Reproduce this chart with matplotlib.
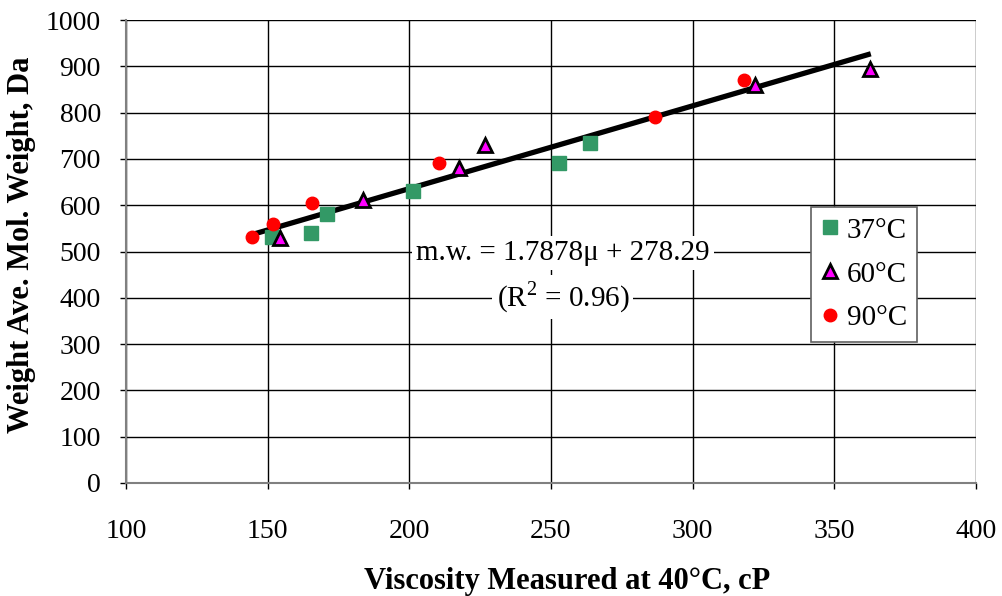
import matplotlib
matplotlib.use("Agg")
import matplotlib.pyplot as plt
import numpy as np

plt.rcParams['font.family'] = ['Liberation Serif', 'DejaVu Serif']
plt.rcParams['mathtext.fontset'] = 'custom'
plt.rcParams['mathtext.rm'] = 'Liberation Serif'

# Data
x37 = [151.5, 165.3, 170.9, 201.3, 252.8, 263.7]
y37 = [531, 540, 580, 630, 691, 734]
x60 = [154.3, 183.6, 217.5, 226.7, 322.0, 362.5]
y60 = [529, 611, 680, 730, 860, 894]
x90 = [144.5, 151.9, 165.6, 210.4, 286.7, 318.0]
y90 = [531, 560, 605, 692, 790, 870]
slope, intercept = 1.7878, 278.29
fit_x = [144, 362]

xticks = [100, 150, 200, 250, 300, 350, 400]
yticks = list(range(0, 1001, 100))

fig = plt.figure(figsize=(10.03, 5.96), dpi=100)
ax = fig.add_axes([0.1256, 0.1896, 0.8474, 0.7768])

ax.set_xlim(100, 400)
ax.set_ylim(0, 1000)
ax.set_xticks(xticks)
ax.set_yticks(yticks)
ax.grid(True, color='black', linewidth=1.0, zorder=0)
ax.set_axisbelow(True)
for s in ['top', 'right']:
    ax.spines[s].set_visible(False)
for s in ['left', 'bottom']:
    ax.spines[s].set_color('#808080')
    ax.spines[s].set_linewidth(1.5)
ax.tick_params(direction='out', length=4, width=1, labelsize=20, colors='black')
ax.tick_params(axis='x', pad=22)
ax.tick_params(axis='y', pad=14)

fx = np.array(fit_x)
ax.plot(fx, slope * fx + intercept, color='black', linewidth=3.8, zorder=3)

ax.plot(x37, y37, linestyle='none', marker='s', markersize=9.5, color='#339966',
        markeredgecolor='#339966', label='37°C', zorder=4)
ax.plot(x60, y60, linestyle='none', marker='^', markersize=10, color='#FF00FF',
        markeredgecolor='black', markeredgewidth=2, label='60°C', zorder=4)
ax.plot(x90, y90, linestyle='none', marker='o', markersize=9, color='#FF0000',
        markeredgecolor='#FF0000', label='90°C', zorder=4)

ax.text((563 - 126) / 850, (483 - 253) / 463, 'm.w. = 1.7878μ + 278.29',
        transform=ax.transAxes, ha='center', va='center', fontsize=21,
        bbox=dict(facecolor='white', edgecolor='none', pad=3), zorder=5)
ax.text((563 - 126) / 850, (483 - 297) / 463, '(R$^2$ = 0.96)',
        transform=ax.transAxes, ha='center', va='center', fontsize=21,
        bbox=dict(facecolor='white', edgecolor='none', pad=3), zorder=5)

leg = ax.legend(loc='upper left', bbox_to_anchor=((811 - 126) / 850, (483 - 207) / 463),
                fontsize=21, frameon=True, fancybox=False, edgecolor='#606060',
                handlelength=0.6, handletextpad=0.28, borderpad=0.35, labelspacing=0.6,
                borderaxespad=0, framealpha=1)
leg.get_frame().set_linewidth(1.2)

ax.set_xlabel('Viscosity Measured at 40°C, cP', fontsize=22, fontweight='bold')
ax.set_ylabel('Weight Ave. Mol. Weight, Da', fontsize=22, fontweight='bold')
ax.xaxis.set_label_coords((567 - 126) / 850, -(582 - 483) / 463)
ax.yaxis.set_label_coords(-(126 - 22) / 850, (483 - 245) / 463)
ax.xaxis.label.set_verticalalignment('center')
ax.yaxis.label.set_verticalalignment('center')

fig.savefig('out.png', dpi=100)
